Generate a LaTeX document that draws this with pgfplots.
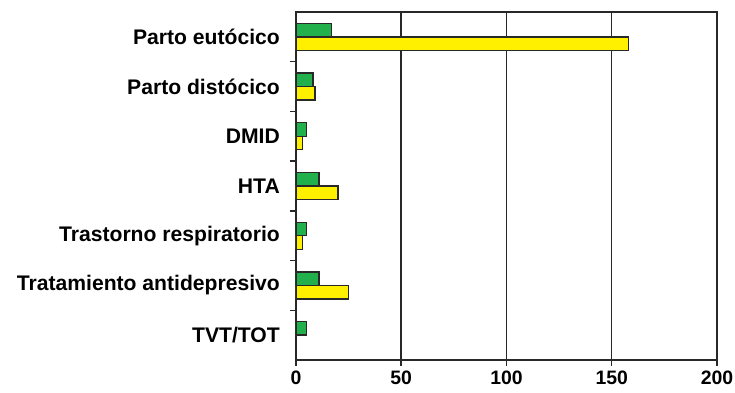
\documentclass[border=0pt]{standalone}
\usepackage{fontspec}
\setmainfont{Liberation Sans}
\usepackage{pgfplots}
\pgfplotsset{compat=1.18}
\usetikzlibrary{calc}
\definecolor{bargreen}{RGB}{33,176,75}
\definecolor{baryellow}{RGB}{255,240,0}
\definecolor{axgray}{RGB}{40,40,40}
\begin{document}
\begin{tikzpicture}
\begin{axis}[
  scale only axis, width=421bp, height=348bp,
  xbar, bar width=13.5bp,
  xmin=0, xmax=200, ymin=-0.5, ymax=6.5,
  y dir=reverse,
  xtick={0,50,...,200},
  ytick={0.5,1.5,...,5.5}, yticklabels={},
  extra y ticks={0,...,6},
  extra y tick labels={Parto eutócico, Parto distócico, DMID, HTA, Trastorno respiratorio, Tratamiento antidepresivo, TVT/TOT},
  extra y tick style={major tick length=0pt, ymajorgrids=false},
  xmajorgrids, grid style={axgray, line width=1.5bp},
  axis line style={axgray, line width=1.5bp},
  tick style={axgray, line width=1.5bp},
  tick align=outside, major tick length=6bp,
  xtick pos=left, ytick pos=left,
  /pgf/number format/assume math mode=true,
  xticklabel style={font=\fontsize{19.5}{22}\selectfont\bfseries, inner sep=0pt, anchor=north, yshift=-5bp},
  yticklabel style={font=\fontsize{21.2}{25}\selectfont\bfseries, inner sep=0pt, anchor=east, xshift=-16bp},
]
\addplot[fill=bargreen, draw=axgray, line width=1.4bp, bar shift=6.75bp] coordinates {(17,0) (8,1) (5,2) (11,3) (5,4) (11,5) (5,6)};
\addplot[fill=baryellow, draw=axgray, line width=1.4bp, bar shift=-6.75bp] coordinates {(158,0) (9,1) (3,2) (20,3) (3,4) (25,5)};
\end{axis}
\pgfresetboundingbox
\path ($(current axis.south west)+(-296bp,-33bp)$) rectangle ($(current axis.north east)+(18bp,12bp)$);
\end{tikzpicture}
\end{document}
